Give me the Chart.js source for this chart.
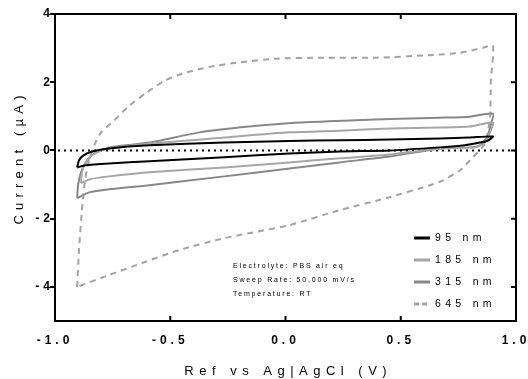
<!DOCTYPE html>
<html>
<head>
<meta charset="utf-8">
<script src="https://cdn.jsdelivr.net/npm/chart.js@4.4.1/dist/chart.umd.min.js"></script>
<style>
  html, body { margin: 0; padding: 0; background: #fff; }
</style>
</head>
<body>
<canvas id="cv" width="528" height="379"></canvas>
<script>
// potential (V) and current (µA), one loop per film
const v95 = [-0.904, -0.896, -0.878, -0.839, -0.765, -0.591, -0.265, 0.017, 0.235, 0.452, 0.67, 0.8, 0.9,
  0.878, 0.843, 0.778, 0.67, 0.452, 0.235, 0.017, -0.265, -0.591, -0.765, -0.874, -0.904];
const i95 = [-0.5, -0.29, -0.15, -0.03, 0.06, 0.15, 0.23, 0.28, 0.3, 0.32, 0.35, 0.38, 0.41,
  0.29, 0.23, 0.15, 0.09, 0.0, -0.03, -0.09, -0.2, -0.32, -0.38, -0.44, -0.5];

const v185 = [-0.887, -0.883, -0.87, -0.843, -0.787, -0.591, -0.265, 0.017, 0.235, 0.452, 0.67, 0.8, 0.9,
  0.887, 0.865, 0.822, 0.67, 0.452, 0.235, 0.017, -0.265, -0.591, -0.765, -0.852, -0.887];
const i185 = [-0.96, -0.64, -0.38, -0.15, 0.03, 0.2, 0.38, 0.53, 0.58, 0.64, 0.67, 0.7, 0.82,
  0.53, 0.23, 0.09, 0.06, -0.12, -0.23, -0.35, -0.5, -0.64, -0.76, -0.85, -0.96];

const v315 = [-0.904, -0.9, -0.887, -0.865, -0.83, -0.765, -0.591, -0.374, -0.157, 0.061, 0.278, 0.496, 0.67, 0.8, 0.9,
  0.89, 0.874, 0.843, 0.8, 0.67, 0.452, 0.235, 0.017, -0.265, -0.591, -0.765, -0.852, -0.904];
const i315 = [-1.4, -1.02, -0.64, -0.35, -0.09, 0.09, 0.23, 0.53, 0.7, 0.82, 0.88, 0.93, 0.96, 0.99, 1.08,
  0.73, 0.38, 0.15, 0.09, 0.06, -0.18, -0.35, -0.53, -0.76, -1.02, -1.14, -1.23, -1.4];

const v645 = [-0.904, -0.896, -0.883, -0.87, -0.852, -0.83, -0.8, -0.743, -0.678, -0.604, -0.526, -0.448, -0.33,
  -0.213, -0.039, 0.178, 0.396, 0.639, 0.757, 0.857, 0.9,
  0.891, 0.887, 0.865, 0.813, 0.757, 0.683, 0.626, 0.452, 0.235, 0.017, -0.265, -0.461, -0.622, -0.765, -0.904];
const i645 = [-4.0, -2.92, -1.75, -0.88, -0.29, 0.15, 0.53, 0.88, 1.31, 1.69, 2.04, 2.25, 2.45,
  2.57, 2.69, 2.72, 2.72, 2.8, 2.86, 3.01, 3.07,
  2.04, 0.96, 0.2, -0.2, -0.58, -0.88, -1.02, -1.37, -1.75, -2.19, -2.57, -2.92, -3.3, -3.65, -4.0];

const seriesLabels = ["95 nm", "185 nm", "315 nm", "645 nm"];
const xTicks = [-1.0, -0.5, 0.0, 0.5, 1.0];
const yTicks = [-4, -2, 0, 2, 4];
const noteLines = ["Electrolyte: PBS air eq", "Sweep Rate: 50,000 mV/s", "Temperature: RT"];

const FONT = "'Liberation Sans', Arial, sans-serif";

function toPoints(vs, is) {
  return vs.map((v, k) => ({ x: v, y: is[k] }));
}

// canvas letter spacing for the tick labels (the plot uses spaced-out type)
const spacingPlugin = {
  id: "spacing",
  beforeLayout(chart) {
    chart.ctx.letterSpacing = "4px";
  },
  beforeDraw(chart) {
    chart.ctx.letterSpacing = "4px";
  },
};

function spacedText(ctx, text, x, y, font, spacing, align) {
  ctx.font = font;
  ctx.letterSpacing = spacing + "px";
  ctx.textAlign = align || "left";
  ctx.textBaseline = "middle";
  const shift = align === "center" ? spacing / 2 : 0;
  ctx.fillText(text, x + shift, y);
}

const framePlugin = {
  id: "frame",
  beforeDatasetsDraw(chart) {
    const { ctx, chartArea: a, scales } = chart;
    const y0 = scales.y.getPixelForValue(0);
    ctx.save();
    ctx.strokeStyle = "#000";
    ctx.lineWidth = 2;
    ctx.setLineDash([2, 4]);
    ctx.beginPath();
    ctx.moveTo(a.left + 3, y0);
    ctx.lineTo(a.right, y0);
    ctx.stroke();
    ctx.restore();
  },
  afterDraw(chart) {
    const { ctx, chartArea: a, scales } = chart;
    ctx.save();
    ctx.strokeStyle = "#000";
    ctx.lineWidth = 2;
    ctx.setLineDash([]);
    ctx.beginPath();
    ctx.moveTo(a.left - 1, a.top);
    ctx.lineTo(a.right, a.top);
    ctx.lineTo(a.right, a.bottom + 1);
    ctx.stroke();

    // inward tick marks on the bottom, top and right edges
    ctx.beginPath();
    xTicks.slice(1, -1).forEach((v) => {
      const px = scales.x.getPixelForValue(v);
      ctx.moveTo(px, a.bottom);
      ctx.lineTo(px, a.bottom - 5);
      ctx.moveTo(px, a.top);
      ctx.lineTo(px, a.top + 5);
    });
    yTicks.forEach((v) => {
      const py = scales.y.getPixelForValue(v);
      ctx.moveTo(a.right, py);
      ctx.lineTo(a.right - 5, py);
    });
    ctx.stroke();

    ctx.fillStyle = "#000";
    // axis titles
    spacedText(ctx, "Ref vs Ag|AgCl (V)", (a.left + a.right) / 2, 371, "13px " + FONT, 5.5, "center");
    ctx.save();
    ctx.translate(19, 160);
    ctx.rotate(-Math.PI / 2);
    spacedText(ctx, "Current (µA)", 0, 0, "13px " + FONT, 5.2, "center");
    ctx.restore();

    // legend
    chart.data.datasets.forEach((ds, k) => {
      const ly = 238 + k * 22;
      ctx.save();
      ctx.strokeStyle = ds.borderColor;
      ctx.lineWidth = 3;
      ctx.setLineDash(ds.borderDash ? [5, 3] : []);
      ctx.beginPath();
      ctx.moveTo(414, ly);
      ctx.lineTo(430, ly);
      ctx.stroke();
      ctx.restore();
      spacedText(ctx, ds.label, 435, ly, "10.5px " + FONT, 4.3, "left");
    });

    // experiment notes
    noteLines.forEach((line, k) => {
      spacedText(ctx, line, 233, 266 + k * 14, "7px " + FONT, 1.8, "left");
    });
    ctx.restore();
  },
};

new Chart(document.getElementById("cv"), {
  type: "scatter",
  data: {
    datasets: [
      { label: seriesLabels[0], data: toPoints(v95, i95), borderColor: "#000000", borderWidth: 2 },
      { label: seriesLabels[1], data: toPoints(v185, i185), borderColor: "#a6a6a6", borderWidth: 2 },
      { label: seriesLabels[2], data: toPoints(v315, i315), borderColor: "#888888", borderWidth: 2 },
      { label: seriesLabels[3], data: toPoints(v645, i645), borderColor: "#a3a3a3", borderWidth: 2, borderDash: [6, 5] },
    ].map((ds) => ({ ...ds, showLine: true, pointRadius: 0, tension: 0.2, fill: false })),
  },
  options: {
    responsive: false,
    animation: false,
    layout: { padding: { left: 0, top: 14, right: 12, bottom: 0 } },
    plugins: { legend: { display: false }, tooltip: { enabled: false } },
    scales: {
      x: {
        type: "linear",
        min: -1,
        max: 1,
        afterBuildTicks: (scale) => {
          scale.ticks = xTicks.map((v) => ({ value: v }));
        },
        afterFit: (scale) => {
          scale.height = 58;
          scale.paddingLeft = 0;
          scale.paddingRight = 0;
        },
        grid: { display: false, drawTicks: false },
        border: { display: true, color: "#000", width: 2 },
        ticks: {
          color: "#000",
          padding: 12,
          maxRotation: 0,
          autoSkip: false,
          font: { family: FONT, size: 12, weight: "bold" },
          callback: (v) => Number(v).toFixed(1),
        },
      },
      y: {
        type: "linear",
        min: -5,
        max: 4,
        afterBuildTicks: (scale) => {
          scale.ticks = yTicks.map((v) => ({ value: v }));
        },
        afterFit: (scale) => {
          scale.width = 55;
          scale.paddingTop = 0;
          scale.paddingBottom = 0;
        },
        grid: { display: true, drawOnChartArea: false, drawTicks: true, tickLength: 5, color: "#000", lineWidth: 2 },
        border: { display: true, color: "#000", width: 2 },
        ticks: {
          color: "#000",
          padding: -4,
          autoSkip: false,
          font: { family: FONT, size: 12, weight: "bold" },
          callback: (v) => String(v),
        },
      },
    },
  },
  plugins: [spacingPlugin, framePlugin],
});
</script>
</body>
</html>
